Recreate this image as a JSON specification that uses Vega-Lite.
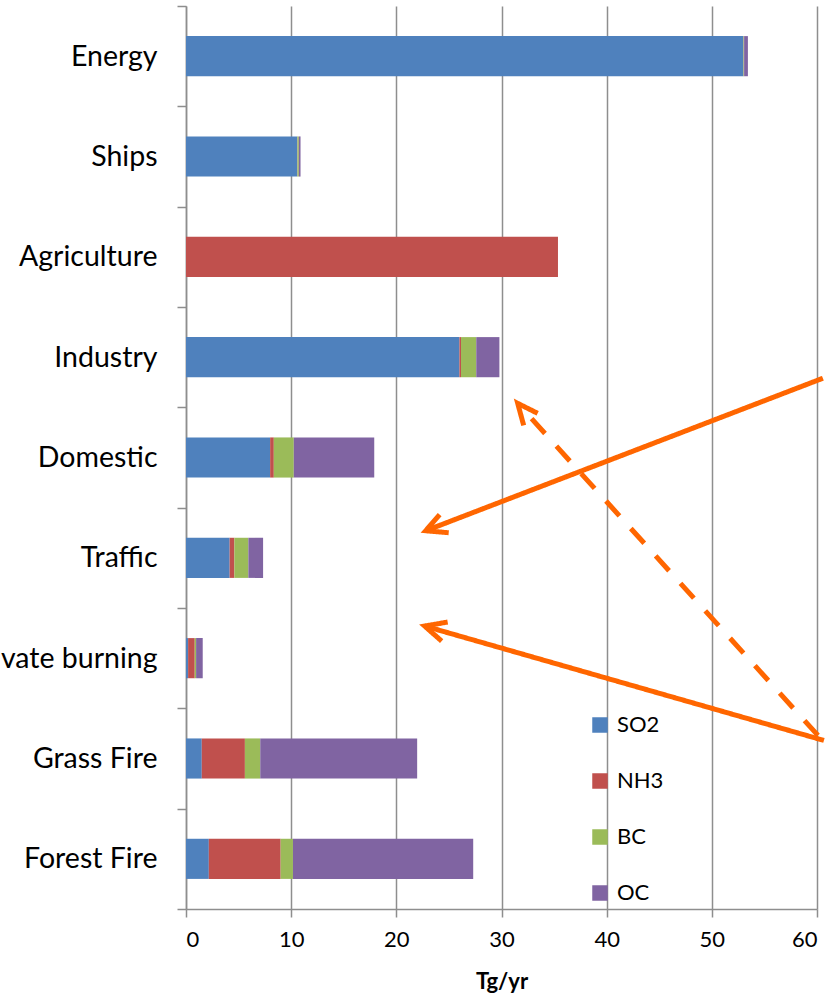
{
  "$schema": "https://vega.github.io/schema/vega-lite/v6.json",
  "width": 631,
  "height": 903,
  "autosize": {"type": "none"},
  "padding": {"left": 186, "top": 6, "right": 14, "bottom": 92},
  "background": "white",
  "config": {"view": {"stroke": null}, "font": "Lato"},
  "datasets": {
    "emissions": [
      {"sector": "Energy", "species": "SO2", "value": 53.0},
      {"sector": "Energy", "species": "NH3", "value": 0.02},
      {"sector": "Energy", "species": "BC", "value": 0.05},
      {"sector": "Energy", "species": "OC", "value": 0.36},
      {"sector": "Ships", "species": "SO2", "value": 10.58},
      {"sector": "Ships", "species": "NH3", "value": 0.02},
      {"sector": "Ships", "species": "BC", "value": 0.13},
      {"sector": "Ships", "species": "OC", "value": 0.16},
      {"sector": "Agriculture", "species": "SO2", "value": 0},
      {"sector": "Agriculture", "species": "NH3", "value": 35.37},
      {"sector": "Agriculture", "species": "BC", "value": 0},
      {"sector": "Agriculture", "species": "OC", "value": 0},
      {"sector": "Industry", "species": "SO2", "value": 26.0},
      {"sector": "Industry", "species": "NH3", "value": 0.15},
      {"sector": "Industry", "species": "BC", "value": 1.45},
      {"sector": "Industry", "species": "OC", "value": 2.2},
      {"sector": "Domestic", "species": "SO2", "value": 8.0},
      {"sector": "Domestic", "species": "NH3", "value": 0.35},
      {"sector": "Domestic", "species": "BC", "value": 1.9},
      {"sector": "Domestic", "species": "OC", "value": 7.65},
      {"sector": "Traffic", "species": "SO2", "value": 4.15},
      {"sector": "Traffic", "species": "NH3", "value": 0.45},
      {"sector": "Traffic", "species": "BC", "value": 1.33},
      {"sector": "Traffic", "species": "OC", "value": 1.4},
      {"sector": "Private burning", "species": "SO2", "value": 0.2},
      {"sector": "Private burning", "species": "NH3", "value": 0.63},
      {"sector": "Private burning", "species": "BC", "value": 0.13},
      {"sector": "Private burning", "species": "OC", "value": 0.63},
      {"sector": "Grass Fire", "species": "SO2", "value": 1.5},
      {"sector": "Grass Fire", "species": "NH3", "value": 4.1},
      {"sector": "Grass Fire", "species": "BC", "value": 1.46},
      {"sector": "Grass Fire", "species": "OC", "value": 14.92},
      {"sector": "Forest Fire", "species": "SO2", "value": 2.17},
      {"sector": "Forest Fire", "species": "NH3", "value": 6.83},
      {"sector": "Forest Fire", "species": "BC", "value": 1.17},
      {"sector": "Forest Fire", "species": "OC", "value": 17.14}
    ],
    "arrows": [
      {"seg": "a1", "kind": "solid", "pt": 0, "x": 60.56, "y": 5.29},
      {"seg": "a1", "kind": "solid", "pt": 1, "x": 22.79, "y": 3.77},
      {"seg": "h1", "kind": "solid", "pt": 0, "x": 24.12, "y": 3.93},
      {"seg": "h1", "kind": "solid", "pt": 1, "x": 22.79, "y": 3.77},
      {"seg": "h1", "kind": "solid", "pt": 2, "x": 24.98, "y": 3.75},
      {"seg": "a2", "kind": "solid", "pt": 0, "x": 60.66, "y": 1.68},
      {"seg": "a2", "kind": "solid", "pt": 1, "x": 22.69, "y": 2.82},
      {"seg": "h2", "kind": "solid", "pt": 0, "x": 24.88, "y": 2.86},
      {"seg": "h2", "kind": "solid", "pt": 1, "x": 22.69, "y": 2.82},
      {"seg": "h2", "kind": "solid", "pt": 2, "x": 24.31, "y": 2.67},
      {"seg": "a3", "kind": "dashed", "pt": 0, "x": 60.09, "y": 1.73},
      {"seg": "a3", "kind": "dashed", "pt": 1, "x": 31.54, "y": 5.04},
      {"seg": "h3", "kind": "solid", "pt": 0, "x": 32.11, "y": 4.82},
      {"seg": "h3", "kind": "solid", "pt": 1, "x": 31.54, "y": 5.04},
      {"seg": "h3", "kind": "solid", "pt": 2, "x": 33.44, "y": 4.94}
    ]
  },
  "layer": [
    {
      "data": {"name": "emissions"},
      "transform": [
        {"calculate": "indexof(['SO2', 'NH3', 'BC', 'OC'], datum.species)", "as": "stackOrder"}
      ],
      "mark": {"type": "bar", "height": {"band": 0.4}},
      "encoding": {
        "y": {
          "field": "sector",
          "type": "nominal",
          "sort": ["Energy", "Ships", "Agriculture", "Industry", "Domestic", "Traffic", "Private burning", "Grass Fire", "Forest Fire"],
          "scale": {"paddingInner": 0, "paddingOuter": 0},
          "axis": {
            "title": null,
            "tickBand": "extent",
            "grid": false,
            "domainColor": "#8e8e8e",
            "domainWidth": 1.5,
            "tickColor": "#8e8e8e",
            "tickWidth": 1.5,
            "tickSize": 9,
            "labelFont": "Lato",
            "labelFontSize": 28.5,
            "labelColor": "#000000",
            "labelPadding": 20,
            "labelLimit": 400
          }
        },
        "x": {
          "field": "value",
          "type": "quantitative",
          "stack": "zero",
          "title": "Tg/yr",
          "scale": {"domain": [0, 60], "nice": false},
          "axis": {
            "title": "Tg/yr",
            "values": [0, 10, 20, 30, 40, 50, 60],
            "grid": true,
            "gridColor": "#8e8e8e",
            "gridWidth": 1.5,
            "domainColor": "#8e8e8e",
            "domainWidth": 1.5,
            "tickColor": "#8e8e8e",
            "tickWidth": 1.5,
            "tickSize": 8,
            "labelFont": "Lato",
            "labelFontSize": 22,
            "labelColor": "#000000",
            "labelPadding": 12,
            "titleFont": "Lato",
            "titleFontSize": 22,
            "titleFontWeight": "bold",
            "titleColor": "#000000",
            "titlePadding": 21
          }
        },
        "order": {"field": "stackOrder", "type": "quantitative"},
        "color": {
          "field": "species",
          "type": "nominal",
          "sort": ["SO2", "NH3", "BC", "OC"],
          "scale": {"domain": ["SO2", "NH3", "BC", "OC"], "range": ["#4F81BD", "#C0504D", "#9BBB59", "#8064A2"]},
          "legend": {
            "title": null,
            "orient": "none",
            "legendX": 403,
            "legendY": 708,
            "padding": 0,
            "symbolType": "square",
            "symbolSize": 240,
            "symbolStrokeWidth": 0,
            "labelFont": "Lato",
            "labelFontSize": 22,
            "labelColor": "#000000",
            "labelOffset": 6,
            "rowPadding": 34
          }
        }
      }
    },
    {
      "data": {"name": "arrows"},
      "mark": {"type": "line", "color": "#FF6600", "strokeWidth": 5, "strokeCap": "butt", "strokeJoin": "miter"},
      "encoding": {
        "x": {"field": "x", "type": "quantitative", "title": "Tg/yr"},
        "y": {"field": "y", "type": "quantitative", "scale": {"domain": [0, 9], "nice": false}, "axis": null},
        "detail": {"field": "seg"},
        "order": {"field": "pt"},
        "strokeDash": {
          "field": "kind",
          "type": "nominal",
          "scale": {"domain": ["solid", "dashed"], "range": [[1, 0], [20, 17]]},
          "legend": null
        }
      }
    }
  ],
  "resolve": {"scale": {"y": "independent"}}
}
